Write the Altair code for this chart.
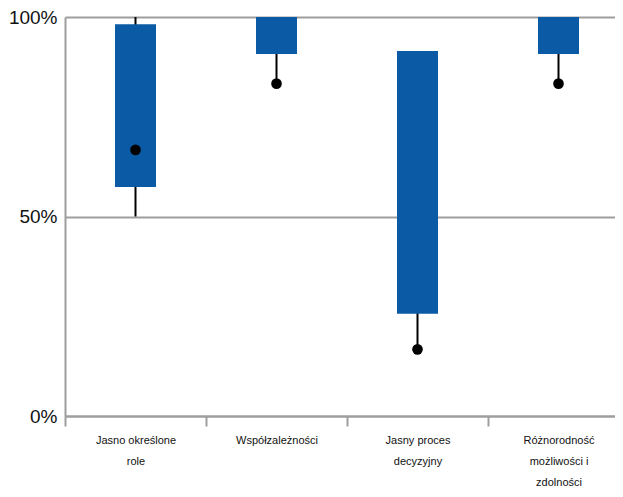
import altair as alt
import pandas as pd

categories = ["Jasno określone role", "Współzależności", "Jasny proces decyzyjny",
              "Różnorodność możliwości i zdolności"]
label_lines = ["Jasno określone|role", "Współzależności", "Jasny proces|decyzyjny",
               "Różnorodność|możliwości i|zdolności"]
whisker_low = [0.50, 0.833, 0.167, 0.833]
whisker_high = [1.00, 1.00, 0.915, 1.00]
box_low = [0.574, 0.907, 0.256, 0.907]
box_high = [0.982, 1.00, 0.915, 1.00]
dot = [0.667, 0.833, 0.167, 0.833]

df = pd.DataFrame({
    "cat": label_lines,
    "wlo": whisker_low, "whi": whisker_high,
    "blo": box_low, "bhi": box_high,
    "dot": dot,
})

GRAY = "#9e9e9e"
x = alt.X("cat:N", sort=label_lines, title=None,
          scale=alt.Scale(range=[0, 564], paddingInner=0, paddingOuter=0),
          axis=alt.Axis(labelAngle=0, labelExpr="split(datum.label, '|')",
                        labelFontSize=11, labelLineHeight=21, labelPadding=8,
                        labelColor="#111", labelFont="Liberation Sans",
                        domainColor=GRAY, domainWidth=2, tickColor=GRAY, tickWidth=2,
                        tickSize=10, tickBand="extent", grid=False, labelLimit=200))
yaxis = alt.Axis(values=[0, 0.5, 1], format="%", grid=True, gridColor=GRAY, gridWidth=2,
                 domainColor=GRAY, domainWidth=2, ticks=False, labelFontSize=19,
                 labelColor="#111", labelPadding=8, labelFont="Liberation Sans", title=None)
yscale = alt.Scale(domain=[0, 1], nice=False)

base = alt.Chart(df)
rule = base.mark_rule(color="black", strokeWidth=2).encode(
    x=x, y=alt.Y("wlo:Q", scale=yscale, axis=yaxis), y2="whi:Q")
bar = base.mark_bar(color="#0A5AA5", size=41).encode(
    x=x, y=alt.Y("blo:Q", scale=yscale), y2="bhi:Q")
pt = base.mark_circle(color="black", size=113, opacity=1).encode(
    x=x, y=alt.Y("dot:Q", scale=yscale))

chart = alt.layer(rule, bar, pt).properties(
    width=550, height=399,
    autosize=alt.AutoSizeParams(type="none"),
    padding={"left": 57, "top": 9, "right": 0, "bottom": 73},
).configure_view(stroke=None)

chart.save("out.html", embed_options={"renderer": "svg", "actions": False})
